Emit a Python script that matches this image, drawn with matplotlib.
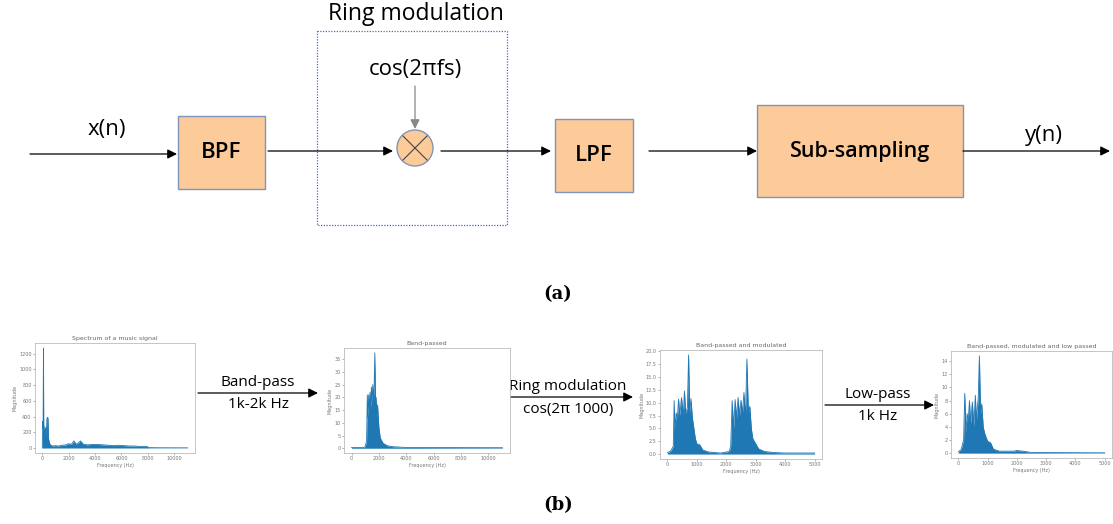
import matplotlib.pyplot as plt
from matplotlib.patches import Rectangle, Circle, FancyArrowPatch

W, H = 1113, 524

# spectrum envelopes
f1 = [0, 30, 60, 90, 110, 150, 200, 250, 300, 350, 400, 430, 470, 520, 600, 800, 1000, 1200, 1500,
      1800, 2000, 2200, 2400, 2550, 2700, 2900, 3100, 3400, 3800, 4200, 4600, 5000, 5400, 5800,
      6200, 6600, 7000, 7400, 7800, 8000, 8100, 9000, 11025]
m1 = [0, 340, 250, 1270, 300, 230, 180, 260, 150, 370, 390, 380, 120, 80, 40, 25, 30, 25, 35,
      40, 55, 45, 90, 50, 60, 90, 50, 40, 45, 45, 40, 35, 30, 35,
      30, 25, 25, 20, 22, 15, 5, 3, 2]

f2 = [0, 900, 1000, 1100, 1150, 1200, 1250, 1300, 1350, 1400, 1450, 1500, 1550, 1600, 1650, 1700,
      1750, 1800, 1850, 1900, 2000, 2100, 2300, 2600, 3000, 4000, 11025]
m2 = [0.3, 0.3, 0.8, 3, 21, 12, 21, 15, 22, 16, 24, 18, 25, 20, 24, 37.5,
      18, 20, 12, 17, 8, 4, 2, 1, 0.6, 0.3, 0.2]

f3 = [0, 100, 200, 230, 260, 300, 340, 380, 420, 480, 540, 580, 620, 680, 720, 760, 800, 850,
      900, 950, 1000, 1100, 1200, 1400, 1800, 2100, 2150, 2200, 2250, 2300, 2350, 2400, 2450,
      2500, 2550, 2600, 2650, 2700, 2750, 2800, 2850, 2900, 3000, 3100, 3300, 3600, 4000, 5000]
m3 = [0.3, 0.5, 1.5, 10.4, 5, 8, 7, 10.7, 7.5, 11, 7.5, 12.3, 8, 9, 19.3, 8, 10.8, 7,
      5, 3, 2, 1.8, 0.8, 0.4, 0.2, 0.5, 1.5, 10.4, 5, 10.6, 7, 11, 7.5,
      10.5, 8, 12, 7, 18.5, 8, 9.3, 5, 3, 2, 1, 0.5, 0.3, 0.2, 0.2]

f4 = [0, 100, 180, 220, 260, 300, 340, 380, 420, 480, 530, 580, 620, 680, 720, 760, 800, 850,
      900, 1000, 1100, 1200, 1400, 1500, 1900, 2000, 2200, 2500, 5000]
m4 = [0.2, 0.6, 2, 9.1, 3, 6, 5, 8, 4.5, 7.8, 4, 8.8, 5, 8.5, 14.8, 6, 7.5, 4,
      3, 1.8, 1.6, 0.6, 0.3, 0.3, 0.3, 0.4, 0.3, 0.1, 0.05]

titles = ['Spectrum of a music signal', 'Band-passed', 'Band-passed and modulated',
          'Band-passed, modulated and low passed']
xticks = [[0, 2000, 4000, 6000, 8000, 10000], [0, 2000, 4000, 6000, 8000, 10000],
          [0, 1000, 2000, 3000, 4000, 5000], [0, 1000, 2000, 3000, 4000, 5000]]
yticks = [[0, 200, 400, 600, 800, 1000, 1200], [0, 5, 10, 15, 20, 25, 30, 35],
          [0, 2.5, 5, 7.5, 10, 12.5, 15, 17.5, 20], [0, 2, 4, 6, 8, 10, 12, 14]]

fig = plt.figure(figsize=(W / 100, H / 100), dpi=100)
ax = fig.add_axes([0, 0, 1, 1])
ax.set_xlim(0, W)
ax.set_ylim(H, 0)
ax.axis('off')

sans = 'Open Sans'
orange = '#fdca9a'
edge = '#7f96b8'


def arrow(x0, y0, x1, y1, c='black', lw=0.9):
    ax.add_patch(FancyArrowPatch((x0, y0), (x1, y1), arrowstyle='-|>', mutation_scale=14,
                                 color=c, lw=lw, shrinkA=0, shrinkB=0))


def box(x0, y0, x1, y1, label, fs):
    ax.add_patch(Rectangle((x0, y0), x1 - x0, y1 - y0, fc=orange, ec=edge, lw=1))
    ax.text((x0 + x1) / 2, (y0 + y1) / 2, label, ha='center', va='center',
            fontsize=fs, fontweight='semibold', family=sans)


# (a) block diagram
ax.text(416, 14, 'Ring modulation', ha='center', va='center', fontsize=16.5, family=sans)
ax.add_patch(Rectangle((317, 31), 190, 194, fill=False, ec='#3d6ecc', lw=0.9, ls=(0, (1, 1.2))))
ax.text(415, 70, 'cos(2πfs)', ha='center', va='center', fontsize=16, family=sans)
arrow(415, 86, 415, 129, c='#888888')
ax.add_patch(Circle((415, 148), 18, fc=orange, ec=edge, lw=1))
ax.plot([403, 427], [136, 160], color='#444444', lw=0.8)
ax.plot([403, 427], [160, 136], color='#444444', lw=0.8)
ax.text(107, 129, 'x(n)', ha='center', va='center', fontsize=16, family=sans)
arrow(30, 154, 177, 154)
box(178, 116, 265, 189, 'BPF', 16)
arrow(268, 151, 393, 151)
arrow(441, 151, 551, 151)
box(555, 119, 633, 192, 'LPF', 16)
arrow(649, 151, 757, 151)
box(757, 105, 963, 197, 'Sub-sampling', 15.5)
arrow(963, 151, 1110, 151)
ax.text(1044, 135, 'y(n)', ha='center', va='center', fontsize=16, family=sans)
ax.text(558, 294, '(a)', ha='center', va='center', fontsize=13, fontweight='bold', family='DejaVu Serif')
ax.text(558, 505, '(b)', ha='center', va='center', fontsize=13, fontweight='bold', family='DejaVu Serif')

# (b) arrows between spectra
arrow(198, 393, 318, 393)
ax.text(258, 382, 'Band-pass', ha='center', va='center', fontsize=11, family=sans)
ax.text(258, 405, '1k-2k Hz', ha='center', va='center', fontsize=11, family=sans)
arrow(502, 397, 633, 397)
ax.text(568, 386, 'Ring modulation', ha='center', va='center', fontsize=11, family=sans)
ax.text(568, 410, 'cos(2π 1000)', ha='center', va='center', fontsize=11, family=sans)
arrow(825, 405, 934, 405)
ax.text(878, 394, 'Low-pass', ha='center', va='center', fontsize=11, family=sans)
ax.text(878, 417, '1k Hz', ha='center', va='center', fontsize=11, family=sans)

# spectra
boxes = [(35, 343, 195, 453), (344, 348, 510, 453), (660, 350, 822, 459), (951, 351, 1112, 458)]
data = [(f1, m1), (f2, m2), (f3, m3), (f4, m4)]
for (x0, y0, x1, y1), (f, m), t, xt, yt in zip(boxes, data, titles, xticks, yticks):
    a = fig.add_axes([x0 / W, 1 - y1 / H, (x1 - x0) / W, (y1 - y0) / H])
    a.fill_between(f, 0, m, color='#1f77b4', lw=0)
    a.plot(f, m, color='#1f77b4', lw=0.6)
    a.set_xticks(xt)
    a.set_yticks(yt)
    a.tick_params(labelsize=3.5, colors='#777777', length=1.5, width=0.4, pad=1)
    for s in a.spines.values():
        s.set_color('#bbbbbb')
        s.set_linewidth(0.6)
    a.set_title(t, fontsize=4.5, color='#666666', pad=2)
    a.set_xlabel('Frequency (Hz)', fontsize=3.5, color='#777777', labelpad=1)
    a.set_ylabel('Magnitude', fontsize=3.5, color='#777777', labelpad=1)

fig.savefig('out.png', dpi=100)
